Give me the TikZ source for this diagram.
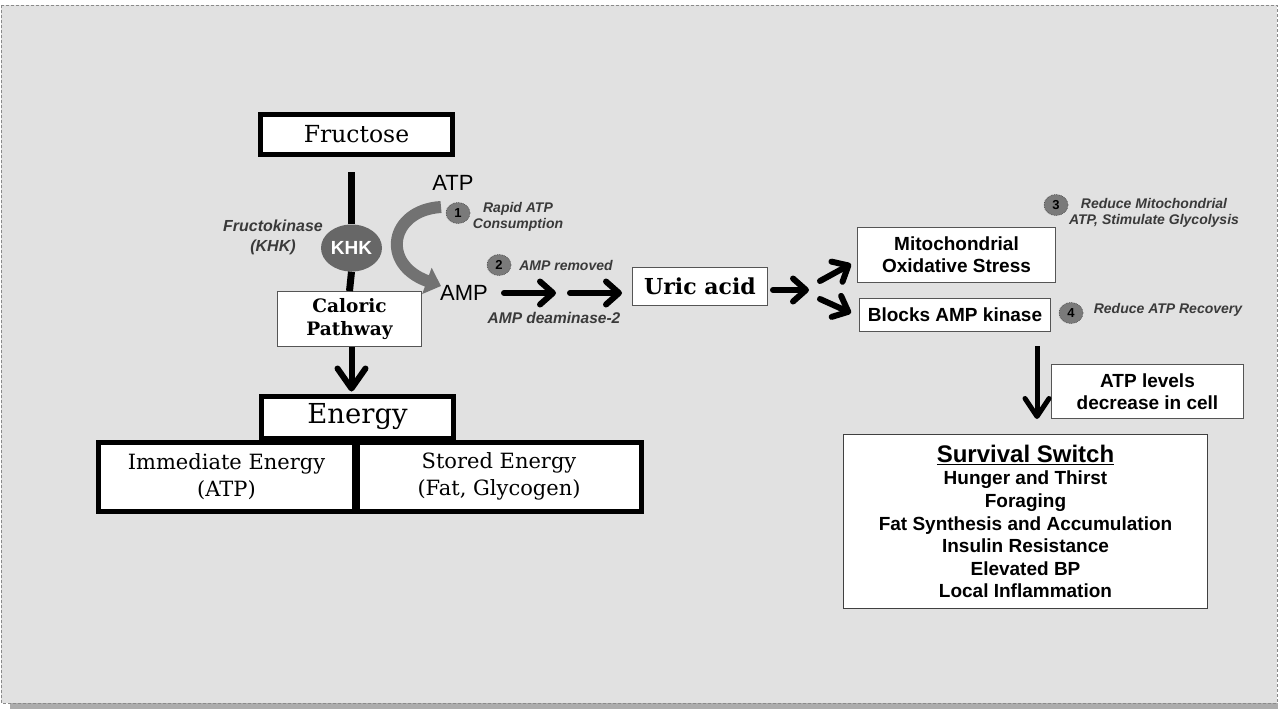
\documentclass[tikz,border=0pt]{standalone}
\usepackage{fontspec}
\setmainfont{DejaVu Serif}
\setsansfont{Liberation Sans}
\usetikzlibrary{arrows.meta,shapes.geometric}
\definecolor{slidebg}{HTML}{E1E1E1}
\definecolor{slideedge}{HTML}{8A8A8A}
\definecolor{curvegray}{HTML}{727272}
\definecolor{dotgray}{HTML}{7A7A7A}
\definecolor{labelgray}{HTML}{3A3A3A}
\definecolor{thinedge}{HTML}{555555}
\tikzset{
  thickbox/.style={draw=black,line width=5pt,fill=white,inner sep=0pt,font=\rmfamily},
  thinbox/.style={draw=thinedge,line width=1pt,fill=white,inner sep=0pt,align=center},
  sansbox/.style={thinbox,font=\sffamily\bfseries\fontsize{19}{22}\selectfont},
  italabel/.style={text=labelgray,font=\sffamily\bfseries\itshape\fontsize{14}{16.5}\selectfont,align=center,inner sep=0pt},
  numdot/.style={ellipse,fill=dotgray,draw=black!70,densely dotted,line width=0.7pt,minimum width=24pt,minimum height=21pt,inner sep=0pt,font=\sffamily\bfseries\fontsize{13}{13}\selectfont},
  bigarrow/.style={line width=6pt,line cap=round,-{Straight Barb[length=13pt,width=23pt,line cap=round,line join=round]}},
  downarrow/.style={line width=6pt,-{Straight Barb[length=20pt,width=28pt,line cap=round,line join=round]}},
}
\begin{document}
\begin{tikzpicture}[x=1pt,y=-1pt]
\useasboundingbox (0,0) rectangle (1280,716);
\fill[white] (0,0) rectangle (1280,716);
% slide
\fill[gray!65] (10,703) rectangle (1278,709);
\fill[slidebg] (1,5) rectangle (1277,703);
\draw[slideedge,densely dashed,line width=1pt] (1,5) rectangle (1277,703);

% left column
\node[thickbox,minimum width=192pt,minimum height=40pt,font=\rmfamily\fontsize{23.5}{23.5}\selectfont] (fructose) at (356.5,134.5) {Fructose};
\coordinate (ktop) at (351.5,172);
\node[ellipse,fill=curvegray!90!black,minimum width=61pt,minimum height=47pt,inner sep=0pt,text=white,font=\sffamily\bfseries\fontsize{19}{19}\selectfont] (khk) at (351.5,248) {KHK};
\node[thinbox,minimum width=144pt,minimum height=55pt,font=\rmfamily\bfseries\fontsize{18.5}{23}\selectfont] (caloric) at (349.5,319) {Caloric\\Pathway};
\draw[line width=7pt] (ktop) -- (khk.north);
\draw[line width=7pt] (khk.south) -- (caloric.north);
\node[italabel,font=\sffamily\bfseries\itshape\fontsize{16}{20}\selectfont] (fk) at (273,237) {Fructokinase\\(KHK)};

\node[thickbox,minimum width=192pt,minimum height=42pt,font=\rmfamily\fontsize{27.5}{27.5}\selectfont] (energy) at (357.5,417) {Energy};
\node[thickbox,minimum width=256pt,minimum height=69pt,align=center,font=\rmfamily\fontsize{21}{27}\selectfont] (imm) at (226.5,476.5) {Immediate Energy\\(ATP)};
\node[thickbox,minimum width=284pt,minimum height=69pt,align=center,font=\rmfamily\fontsize{21}{27}\selectfont] (stored) at (499,476.5) {Stored Energy\\(Fat, Glycogen)};
\draw[downarrow] (caloric.south -| khk) -- ([yshift=2pt]energy.north -| khk);

% ATP / AMP
\node[inner sep=0pt,font=\sffamily\fontsize{22}{22}\selectfont] (atp) at (453,183) {ATP};
\node[inner sep=0pt,font=\sffamily\fontsize{22}{22}\selectfont] (amp) at (464,293) {AMP};
\coordinate (cstart) at (441,207);
\coordinate (cend) at (441,286);
\draw[curvegray,line width=12pt,-{Triangle[length=15pt,width=27pt]}] (cstart) .. controls (390,210) and (380,264) .. (cend);
\node[numdot] (n1) at (458,213) {1};
\node[italabel] (l1) at (518,217) {Rapid ATP\\Consumption};
\node[numdot] (n2) at (499,265) {2};
\node[italabel] (l2) at (566,265) {AMP removed};
\node[italabel,font=\sffamily\bfseries\itshape\fontsize{15.5}{15.5}\selectfont] (l2b) at (554,318) {AMP deaminase-2};

\node[thinbox,minimum width=135pt,minimum height=38pt,font=\rmfamily\bfseries\fontsize{22}{22}\selectfont] (uric) at (700,286.5) {Uric acid};
\coordinate (a1) at (504,293);
\coordinate (m1) at (556,293);
\coordinate (m2) at (570,293);
\draw[bigarrow] (a1) -- (m1);
\draw[bigarrow] (m2) -- ([xshift=-10pt]uric.west |- m2);

% right side
\node[sansbox,minimum width=198pt,minimum height=55pt] (mito) at (956.5,255) {Mitochondrial\\Oxidative Stress};
\node[sansbox,minimum width=191pt,minimum height=33pt] (blocks) at (955,315) {Blocks AMP kinase};
\coordinate (u1) at (773,290);
\coordinate (split) at (809,290);
\coordinate (s1) at (820,281);
\coordinate (e1) at (851,264);
\coordinate (s2) at (820,299);
\coordinate (e2) at (851,313);
\draw[bigarrow] (u1) -- (split);
\draw[bigarrow] (s1) -- (e1);
\draw[bigarrow] (s2) -- (e2);

\node[numdot] (n3) at (1056,205) {3};
\node[italabel] (l3) at (1154,213) {Reduce Mitochondrial\\ATP, Stimulate Glycolysis};
\node[numdot] (n4) at (1071,313) {4};
\node[italabel] (l4) at (1168,310) {Reduce ATP Recovery};

\node[sansbox,minimum width=192pt,minimum height=54pt] (atplev) at (1147.5,391.5) {ATP levels\\decrease in cell};
\coordinate (dtop) at (1037,346);
\draw[line width=5pt,-{Straight Barb[length=18pt,width=24pt,line cap=round,line join=round]}] (dtop) -- (dtop |- atplev.south);

\node[draw=black!75,line width=1.2pt,fill=white,minimum width=364pt,minimum height=174pt,inner sep=0pt,align=center,font=\sffamily\bfseries\fontsize{19}{22.6}\selectfont] (surv) at (1025.5,521.5)
{{\fontsize{24}{26}\selectfont\underline{Survival Switch}}\\Hunger and Thirst\\Foraging\\Fat Synthesis and Accumulation\\Insulin Resistance\\Elevated BP\\Local Inflammation};
\end{tikzpicture}
\end{document}
